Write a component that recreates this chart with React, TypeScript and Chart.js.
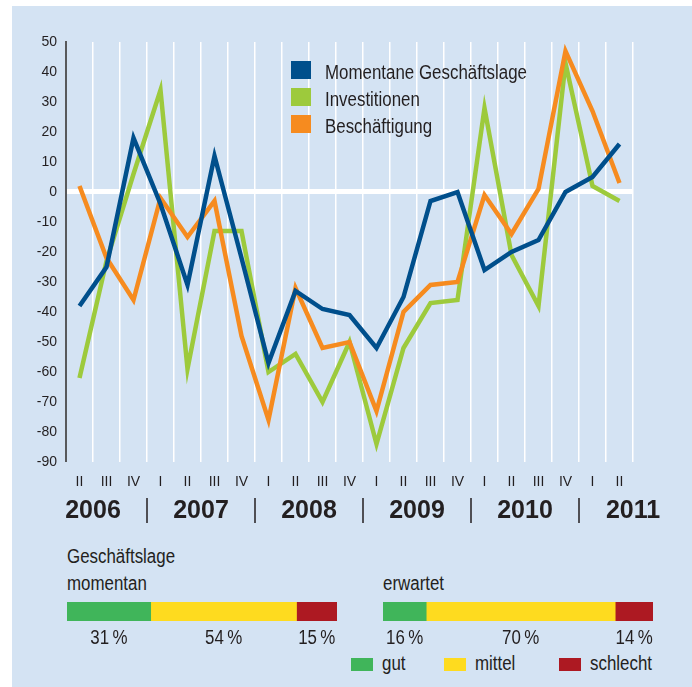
import React, { useEffect, useRef } from 'react';
import { Chart, registerables } from 'chart.js';

Chart.register(...registerables);

// ---------- data ----------
const quarters = ['II', 'III', 'IV', 'I', 'II', 'III', 'IV', 'I', 'II', 'III', 'IV', 'I', 'II', 'III', 'IV', 'I', 'II', 'III', 'IV', 'I', 'II'];
const years = ['2006', '2007', '2008', '2009', '2010', '2011'];
const yearFirstQuarterIndex = [-1, 3, 7, 11, 15, 19];
const seriesNames = ['Momentane Geschäftslage', 'Investitionen', 'Beschäftigung'];
const momentane = [-38, -25, 18, -4, -31, 12, -22, -57, -33, -39, -41, -52, -35, -3, 0, -26, -20, -16, 0, 5, 16];
const investitionen = [-62, -23, 6, 34, -59, -13, -13, -60, -54, -70, -50, -84, -52, -37, -36, 28, -21, -38, 43, 2, -3];
const beschaeftigung = [2, -22, -36, -2, -15, -3, -48, -76, -32, -52, -50, -73, -40, -31, -30, -1, -14, 1, 47, 27, 3];
const yMin = -90;
const yMax = 50;
const yStep = 10;

const statusLabels = ['gut', 'mittel', 'schlecht'];
const momentanShares = [31, 54, 15];
const erwartetShares = [16, 70, 14];
const sectionTitle = 'Geschäftslage';
const momentanTitle = 'momentan';
const erwartetTitle = 'erwartet';

// ---------- styles ----------
const FONT = '"Liberation Sans", Arial, sans-serif';
const NARROW = 0.845;
const TEXT = '#231f20';
const PANEL = '#d4e3f3';
const BLUE = '#004f8c';
const GREEN = '#9dca3c';
const ORANGE = '#f68b1f';
const statusColors = ['#40b55a', '#fedb1f', '#ad1922'];

const yearPlugin = {
  id: 'yearLabels',
  afterDraw(chart: any) {
    const { ctx } = chart;
    const x = chart.scales.x;
    const w = (x.right - x.left) / quarters.length;
    ctx.save();
    ctx.fillStyle = TEXT;
    ctx.font = `bold 25px ${FONT}`;
    ctx.textAlign = 'center';
    ctx.textBaseline = 'middle';
    const yy = x.top + 49;
    years.forEach((yr, k) => {
      const cx = x.left + (yearFirstQuarterIndex[k] + 2) * w;
      ctx.fillText(yr, cx, yy);
      if (k > 0) {
        const sx = x.left + yearFirstQuarterIndex[k] * w;
        ctx.fillRect(Math.round(sx) - 0.75, yy - 13, 1.5, 25);
      }
    });
    ctx.restore();
  },
};

function LineChart() {
  const ref = useRef<HTMLCanvasElement>(null);
  useEffect(() => {
    const chart = new Chart(ref.current!, {
      type: 'line',
      data: {
        labels: quarters,
        datasets: [
          { label: seriesNames[0], data: momentane, borderColor: BLUE, backgroundColor: BLUE },
          { label: seriesNames[2], data: beschaeftigung, borderColor: ORANGE, backgroundColor: ORANGE },
          { label: seriesNames[1], data: investitionen, borderColor: GREEN, backgroundColor: GREEN },
        ],
      },
      options: {
        responsive: false,
        animation: false,
        devicePixelRatio: 1,
        layout: { padding: { top: 42, right: 59, bottom: 0, left: 0 } },
        plugins: { legend: { display: false }, tooltip: { enabled: false } },
        elements: {
          point: { radius: 0 },
          line: { tension: 0, borderWidth: 4.5, borderJoinStyle: 'miter', borderCapStyle: 'butt', fill: false },
        },
        scales: {
          x: {
            type: 'category',
            offset: true,
            grid: {
              offset: true,
              color: (c: any) => (c.index === 0 ? 'rgba(0,0,0,0)' : '#ffffff'),
              lineWidth: 1.5,
              drawTicks: false,
            },
            border: { display: false },
            ticks: {
              autoSkip: false,
              maxRotation: 0,
              padding: 12,
              color: TEXT,
              font: { family: FONT, size: 14 },
            },
            afterFit: (s: any) => { s.height = 78; },
          },
          y: {
            min: yMin,
            max: yMax,
            ticks: {
              stepSize: yStep,
              padding: 9,
              color: TEXT,
              font: { family: FONT, size: 14 },
            },
            grid: {
              color: (c: any) => (c.tick && c.tick.value === 0 ? '#ffffff' : 'rgba(0,0,0,0)'),
              lineWidth: (c: any) => (c.tick && c.tick.value === 0 ? 5 : 0),
              drawTicks: false,
            },
            border: { display: true, color: '#58595b', width: 2 },
            afterFit: (s: any) => { s.width = 66; },
          },
        },
      } as any,
      plugins: [yearPlugin],
    });
    return () => chart.destroy();
  }, []);
  return <canvas ref={ref} width={692} height={540} style={{ position: 'absolute', left: 0, top: 0, width: 692, height: 540 }} />;
}

function ShareBar({ values, left, top }: { values: number[]; left: number; top: number }) {
  const ref = useRef<HTMLCanvasElement>(null);
  useEffect(() => {
    const labelPlugin = {
      id: 'shareLabels',
      afterDraw(chart: any) {
        const { ctx } = chart;
        const x = chart.scales.x;
        ctx.save();
        ctx.fillStyle = TEXT;
        ctx.font = `20px ${FONT}`;
        ctx.textAlign = 'center';
        ctx.textBaseline = 'alphabetic';
        let cum = 0;
        values.forEach((v) => {
          const cx = x.getPixelForValue(cum + v / 2);
          ctx.save();
          ctx.translate(cx, chart.chartArea.bottom + 23);
          ctx.scale(NARROW, 1);
          ctx.fillText(`${v}\u2009%`, 0, 0);
          ctx.restore();
          cum += v;
        });
        ctx.restore();
      },
    };
    const chart = new Chart(ref.current!, {
      type: 'bar',
      data: {
        labels: [''],
        datasets: statusLabels.map((l, i) => ({
          label: l,
          data: [values[i]],
          backgroundColor: statusColors[i],
          borderWidth: 0,
          barPercentage: 1,
          categoryPercentage: 1,
        })),
      },
      options: {
        indexAxis: 'y',
        responsive: false,
        animation: false,
        devicePixelRatio: 1,
        layout: { padding: { top: 0, left: 0, right: 0, bottom: 31 } },
        plugins: { legend: { display: false }, tooltip: { enabled: false } },
        scales: {
          x: { stacked: true, min: 0, max: 100, display: false },
          y: { stacked: true, display: false },
        },
      } as any,
      plugins: [labelPlugin],
    });
    return () => chart.destroy();
  }, [values]);
  return <canvas ref={ref} width={270} height={50} style={{ position: 'absolute', left, top, width: 270, height: 50 }} />;
}

const textStyle = (left: number, top: number): React.CSSProperties => ({
  position: 'absolute',
  left,
  top,
  fontFamily: FONT,
  fontSize: 20,
  lineHeight: '20px',
  color: TEXT,
  whiteSpace: 'nowrap',
  transform: `scaleX(${NARROW})`,
  transformOrigin: 'left top',
});

export default function App() {
  const legendColors = [BLUE, GREEN, ORANGE];
  return (
    <div style={{ position: 'absolute', left: 0, top: 0, width: 692, height: 687, background: '#ffffff', overflow: 'hidden' }}>
      <div style={{ position: 'absolute', left: 12, top: 6, width: 680, height: 681, background: PANEL }} />
      <LineChart />
      {seriesNames.map((n, i) => (
        <React.Fragment key={n}>
          <div style={{ position: 'absolute', left: 291, top: 61 + i * 27, width: 20, height: 18, background: legendColors[i] }} />
          <div style={textStyle(325, 62 + i * 27)}>{n}</div>
        </React.Fragment>
      ))}
      <div style={textStyle(67, 546)}>{sectionTitle}</div>
      <div style={textStyle(67, 573)}>{momentanTitle}</div>
      <div style={textStyle(383, 573)}>{erwartetTitle}</div>
      <ShareBar values={momentanShares} left={67} top={602} />
      <ShareBar values={erwartetShares} left={383} top={602} />
      {statusLabels.map((l, i) => {
        const sq = [351, 444, 559][i];
        return (
          <React.Fragment key={l}>
            <div style={{ position: 'absolute', left: sq, top: 658, width: 22, height: 13, background: statusColors[i] }} />
            <div style={textStyle(sq + 31, 653)}>{l}</div>
          </React.Fragment>
        );
      })}
    </div>
  );
}
